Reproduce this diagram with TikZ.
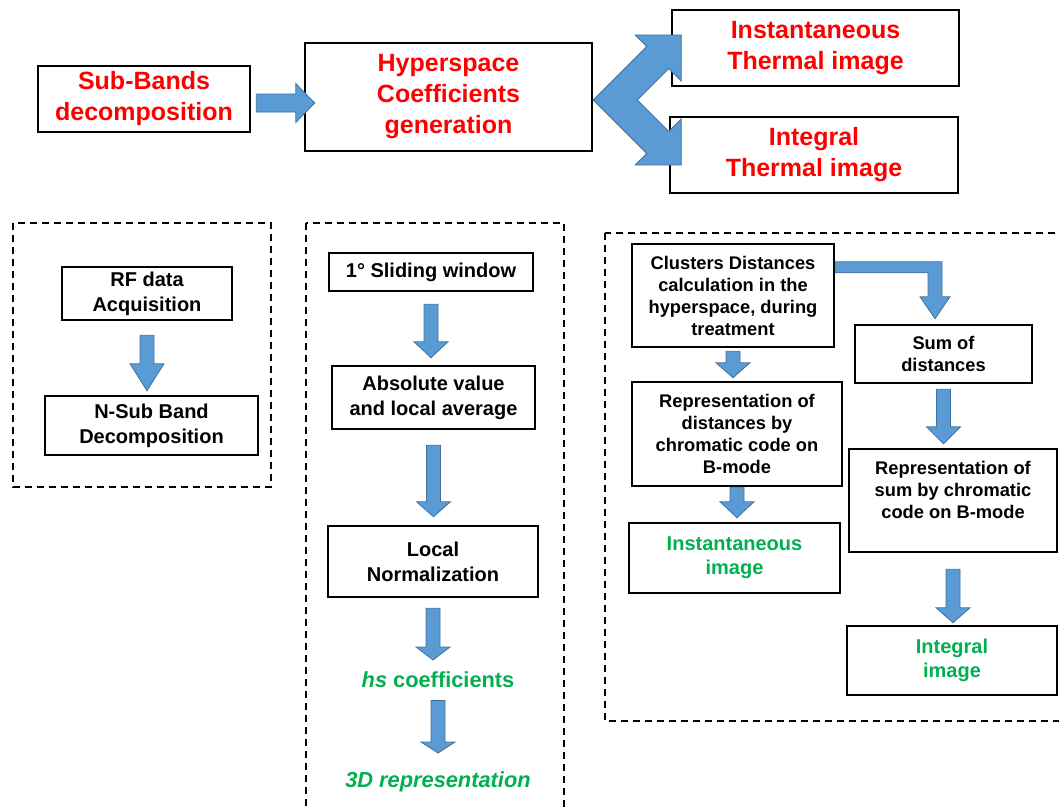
\documentclass[tikz,border=0pt]{standalone}
\usepackage{fontspec}
\setmainfont{Liberation Sans}
\usepackage{tikz}
\usetikzlibrary{calc}
\definecolor{hotred}{HTML}{FF0000}
\definecolor{leafgreen}{HTML}{00B050}
\definecolor{arrowblue}{HTML}{5B9BD5}
\definecolor{arrowedge}{HTML}{41719C}
\tikzset{
   box/.style={draw=black, line width=2.5pt, align=center, inner sep=2pt},
   redtext/.style={text=hotred, font=\fontsize{25}{31}\selectfont\bfseries},
   bigtext/.style={font=\fontsize{20}{25}\selectfont\bfseries},
   smalltext/.style={font=\fontsize{18.3}{22}\selectfont\bfseries},
   greentext/.style={text=leafgreen, font=\fontsize{20}{24}\selectfont\bfseries},
   greenhs/.style={text=leafgreen, font=\fontsize{21.8}{26}\selectfont\bfseries, inner sep=0pt},
   panel/.style={draw=black, line width=2pt, dash pattern=on 7pt off 5pt},
   blockarrow/.style={fill=arrowblue, draw=arrowedge, line width=0.8pt},
   sz/.style 2 args={minimum width=#1pt, minimum height=#2pt}
}
% down pointing block arrow from one node to the next
\newcommand{\blockdown}[5][16]{%
  \coordinate (#2-s) at ($(#2.south)+(0,#4)$);
  \coordinate (#2-t) at ($(#2.south |- #3.north)+(0,-#5)$);
  \filldraw[blockarrow] ($(#2-s)+(-7,0)$) -- ($(#2-t)+(-7,-#1)$) -- ($(#2-t)+(-17,-#1)$) -- (#2-t)
    -- ($(#2-t)+(17,-#1)$) -- ($(#2-t)+(7,-#1)$) -- ($(#2-s)+(7,0)$) -- cycle;
}
\begin{document}
\begin{tikzpicture}[x=1pt,y=-1pt]
\useasboundingbox (0,0) rectangle (1059,808);
\clip (0,0) rectangle (1059,808);
%
\node[box,redtext,sz={212}{66}]  (subbands)  at (144,99)    {Sub-Bands\\decomposition};
\node[box,redtext,sz={287}{108}] (hyper)     at (448.5,97)  {Hyperspace\\Coefficients\\generation};
\node[box,redtext,sz={287}{76}]  (insttherm) at (815.5,48)  {Instantaneous\\Thermal image};
\node[box,redtext,sz={288}{76}]  (inttherm)  at (814,155)   {Integral\\Thermal image};
%
\draw[panel] (13,223) rectangle (271,487);
\draw[panel] (306,223) rectangle (564,830);
\draw[panel] (605,233) rectangle (1080,721);
%
\node[box,bigtext,sz={170}{53}] (rf)   at (147,293.5)   {RF data\\Acquisition};
\node[box,bigtext,sz={213}{59}] (nsub) at (151.5,425.5) {N-Sub Band\\Decomposition};
%
\node[box,bigtext,sz={204}{38}] (slide)     at (431,272)   {1° Sliding window};
\node[box,bigtext,sz={203}{63}] (absval)    at (433.5,397.5) {Absolute value\\and local average};
\node[box,bigtext,sz={210}{71}] (localnorm) at (433,561.5) {Local\\Normalization};
\node[greenhs,anchor=base] (hscoef) at (438,687) {\textit{hs} coefficients};
\node[greenhs,anchor=base] (threed) at (438,787) {\textit{3D representation}};
%
\node[box,smalltext,sz={202}{103}] (clusters) at (733,295.5) {Clusters Distances\\calculation in the\\hyperspace, during\\treatment};
\node[box,smalltext,sz={177}{58}]  (sumdist)  at (943.5,354) {Sum of\\distances};
\node[box,smalltext,sz={210}{104}] (repdist)  at (737,434)   {Representation of\\distances by\\chromatic  code on\\B-mode};
\node[box,smalltext,sz={208}{103}] (repsum)   at (953,500.5) {Representation of\\sum by chromatic\\code on B-mode\\[0pt]\mbox{}};
\node[box,greentext,sz={211}{70}]  (instimg)  at (734.5,558) {Instantaneous\\image};
\node[box,greentext,sz={210}{69}]  (intimg)   at (952,660.5) {Integral\\image};
%
% top row arrows
\coordinate (feed)    at ($(subbands.east)+(5,4)$);
\coordinate (feedtip) at ($(hyper.west)+(11,6)$);
\filldraw[blockarrow] ($(feed)+(0,-9)$) -- ($(feedtip)+(-19,-9)$) -- ($(feedtip)+(-19,-19.5)$) -- (feedtip)
  -- ($(feedtip)+(-19,19.5)$) -- ($(feedtip)+(-19,9)$) -- ($(feed)+(0,9)$) -- cycle;
\coordinate (fork) at ($(hyper.east)+(0,3)$);
\filldraw[blockarrow] (fork) -- ++(53.5,-53.5) -- ++(-11.5,-11.5) -- ++(46,0) -- ++(0,46)
  -- ++(-12.5,-12.5) -- ++(-31.5,31.5) -- ++(31.5,31.5) -- ++(12.5,-12.5) -- ++(0,46)
  -- ++(-46,0) -- ++(11.5,-11.5) -- cycle;
%
\blockdown[27]{rf}{nsub}{14}{4}
\blockdown{slide}{absval}{12}{7}
\blockdown[15]{absval}{localnorm}{15}{8}
\blockdown[13]{localnorm}{hscoef}{10}{11}
\blockdown[11]{hscoef}{threed}{13}{18}
\blockdown[15]{clusters}{repdist}{3}{3}
\blockdown{repdist}{instimg}{0}{4}
\blockdown[17]{sumdist}{repsum}{5}{4}
\blockdown[15]{repsum}{intimg}{16}{2}
%
\coordinate (bendstart) at ($(clusters.north east)+(0,19)$);
\coordinate (bendtip)   at ($(sumdist.north)+(-8.5,-5)$);
\filldraw[blockarrow] (bendstart) -- ($(bendstart -| bendtip)+(7,0)$) -- ($(bendtip)+(7,-22)$)
  -- ($(bendtip)+(15,-22)$) -- (bendtip) -- ($(bendtip)+(-15,-22)$) -- ($(bendtip)+(-7,-22)$)
  -- ($(bendstart -| bendtip)+(-7,11)$) -- ($(bendstart)+(0,11)$) -- cycle;
\end{tikzpicture}
\end{document}
